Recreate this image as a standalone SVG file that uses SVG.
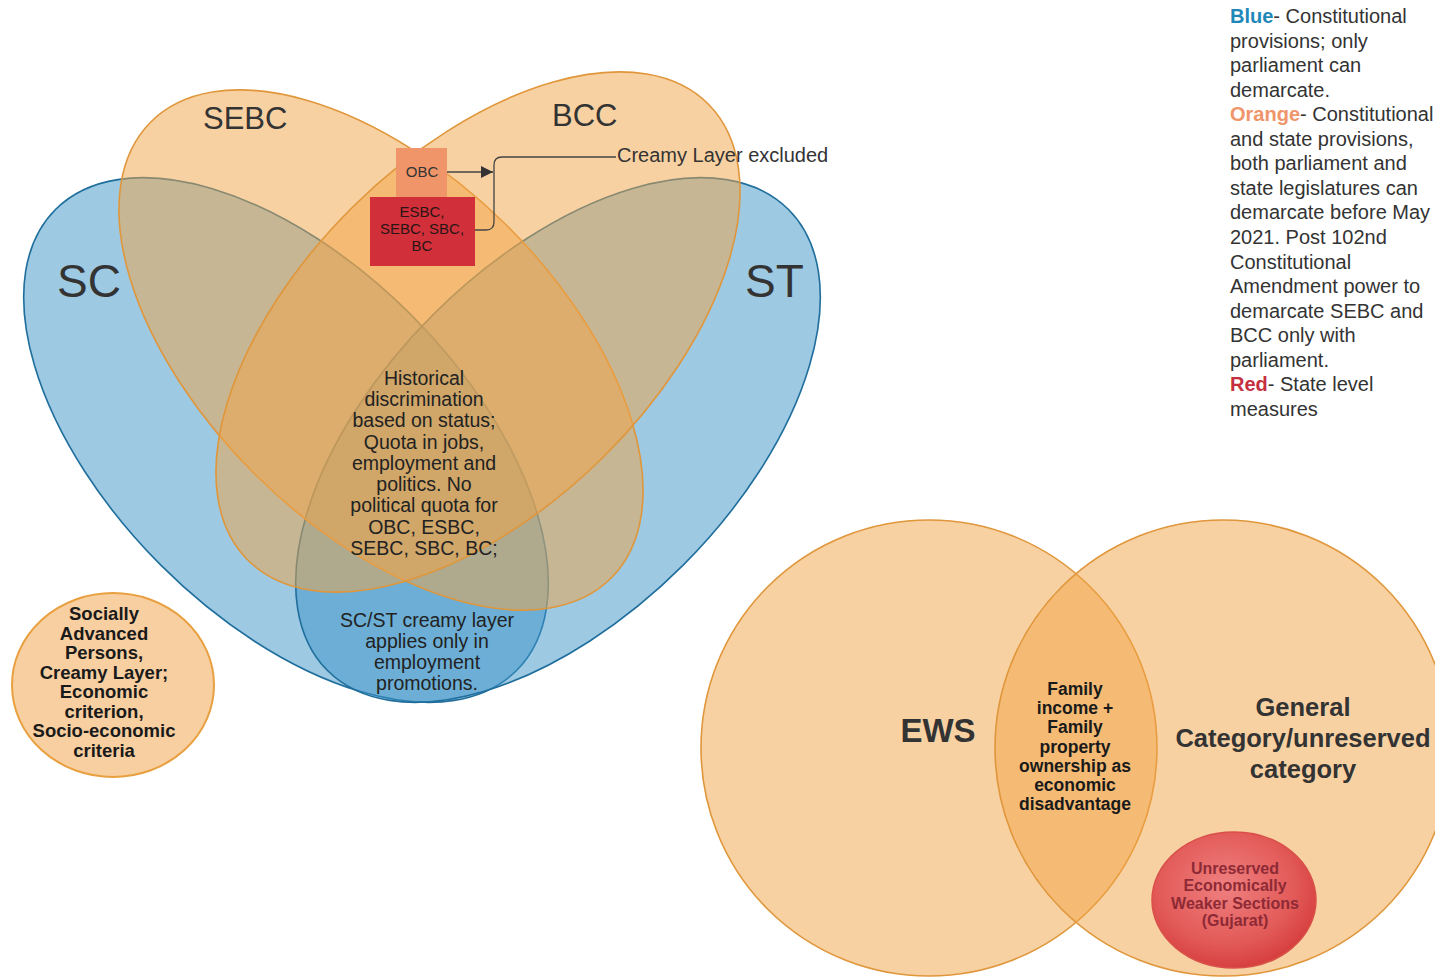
<svg xmlns="http://www.w3.org/2000/svg" width="1435" height="978" viewBox="0 0 1435 978">
<defs>
<style>
.blue{fill:#3B93C7;fill-opacity:0.5;stroke:#1F6E9C;stroke-width:1.6}
.orange{fill:#F2A445;fill-opacity:0.5;stroke:#E0963A;stroke-width:1.6}
.t{font-family:"Liberation Sans",Arial,sans-serif;fill:#333}
.b{font-weight:bold}
.c{text-anchor:middle}
.leg{font-family:"Liberation Sans",Arial,sans-serif;font-size:20px;fill:#333}
</style>
<radialGradient id="redg" cx="0.45" cy="0.4" r="0.6">
<stop offset="0" stop-color="#EF8080"/>
<stop offset="0.7" stop-color="#E25A58"/>
<stop offset="1" stop-color="#D6403F"/>
</radialGradient>
<marker id="arr" viewBox="0 0 12 12" refX="12" refY="6" markerWidth="12" markerHeight="12" markerUnits="userSpaceOnUse" orient="auto">
<path d="M0,0 L12,6 L0,12 z" fill="#333"/>
</marker>
</defs>
<rect width="1435" height="978" fill="#fff"/>

<g id="SC"><ellipse class="blue" cx="286" cy="440" rx="326" ry="177" transform="rotate(45 286 440)"/></g>
<g id="ST"><ellipse class="blue" cx="558" cy="440" rx="326" ry="177" transform="rotate(-45 558 440)"/></g>
<g id="SEBC"><ellipse class="orange" cx="381" cy="350" rx="324" ry="177" transform="rotate(44.6 381 350)"/></g>
<g id="BCC"><ellipse class="orange" cx="478" cy="332" rx="324" ry="177" transform="rotate(-44.6 478 332)"/></g>

<g id="labels4" class="t">
<text x="57" y="297" font-size="46">SC</text>
<text x="745" y="297" font-size="46">ST</text>
<text x="203" y="129" font-size="31">SEBC</text>
<text x="552" y="126" font-size="31">BCC</text>
</g>

<g id="OBC">
<rect x="396" y="148" width="51" height="50" fill="#F0956A"/>
<text class="t c" x="422" y="177" font-size="15" fill="#3a2a22">OBC</text>
</g>
<g id="ESBC">
<rect x="370" y="197" width="105" height="69" fill="#D12F3A"/>
<g class="t c" font-size="15" style="fill:#2a1515">
<text x="422" y="217">ESBC,</text>
<text x="422" y="234">SEBC, SBC,</text>
<text x="422" y="251">BC</text>
</g>
</g>

<g id="connectors" fill="none" stroke="#444" stroke-width="1.3">
<path d="M475,230 H486 Q494,230 494,222 V165 Q494,157 502,157 H616"/>
<path d="M447,172 H493" marker-end="url(#arr)"/>
</g>
<g id="creamy"><text class="t" x="617" y="162" font-size="20">Creamy Layer excluded</text></g>

<g id="center-text" class="t c" font-size="19.5" style="fill:#222">
<text x="424" y="385">Historical</text>
<text x="424" y="406">discrimination</text>
<text x="424" y="427">based on status;</text>
<text x="424" y="449">Quota in jobs,</text>
<text x="424" y="470">employment and</text>
<text x="424" y="491">politics. No</text>
<text x="424" y="512">political quota for</text>
<text x="424" y="534">OBC, ESBC,</text>
<text x="424" y="555">SEBC, SBC, BC;</text>
</g>
<g id="scst-text" class="t c" font-size="19.5" style="fill:#222">
<text x="427" y="627">SC/ST creamy layer</text>
<text x="427" y="648">applies only in</text>
<text x="427" y="669">employment</text>
<text x="427" y="690">promotions.</text>
</g>

<g id="socially">
<ellipse cx="113" cy="685" rx="101" ry="92" fill="#F8CFA0" stroke="#E8A040" stroke-width="2"/>
<g class="t b c" font-size="18.5" style="fill:#1a1a1a">
<text x="104" y="620">Socially</text>
<text x="104" y="639.5">Advanced</text>
<text x="104" y="659">Persons,</text>
<text x="104" y="678.5">Creamy Layer;</text>
<text x="104" y="698">Economic</text>
<text x="104" y="717.5">criterion,</text>
<text x="104" y="737">Socio-economic</text>
<text x="104" y="756.5">criteria</text>
</g>
</g>

<g id="EWS">
<circle class="orange" cx="929" cy="748" r="228"/>
</g>
<g id="General">
<circle class="orange" cx="1223" cy="748" r="228"/>
</g>
<g id="gujarat">
<ellipse cx="1234" cy="900" rx="82" ry="68" fill="url(#redg)" stroke="#D9504A" stroke-width="1.5"/>
<g class="t b c" font-size="16" style="fill:#8E2A35">
<text x="1235" y="874">Unreserved</text>
<text x="1235" y="891">Economically</text>
<text x="1235" y="908.5">Weaker Sections</text>
<text x="1235" y="926">(Gujarat)</text>
</g>
</g>
<g id="ews-text" class="t b c">
<text x="938" y="742" font-size="33">EWS</text>
<g font-size="25.5">
<text x="1303" y="716">General</text>
<text x="1303" y="747">Category/unreserved</text>
<text x="1303" y="778">category</text>
</g>
<g font-size="17.5" style="fill:#1a1a1a">
<text x="1075" y="695">Family</text>
<text x="1075" y="714">income +</text>
<text x="1075" y="733">Family</text>
<text x="1075" y="753">property</text>
<text x="1075" y="772">ownership as</text>
<text x="1075" y="791">economic</text>
<text x="1075" y="810">disadvantage</text>
</g>
</g>

<g id="legend" class="leg">
<text x="1230" y="23"><tspan font-weight="bold" fill="#1E88B8">Blue</tspan>- Constitutional</text>
<text x="1230" y="47.6">provisions; only</text>
<text x="1230" y="72.1">parliament can</text>
<text x="1230" y="96.7">demarcate.</text>
<text x="1230" y="121.2"><tspan font-weight="bold" fill="#F0956A">Orange</tspan>- Constitutional</text>
<text x="1230" y="145.8">and state provisions,</text>
<text x="1230" y="170.3">both parliament and</text>
<text x="1230" y="194.9">state legislatures can</text>
<text x="1230" y="219.4">demarcate before May</text>
<text x="1230" y="244">2021. Post 102nd</text>
<text x="1230" y="268.5">Constitutional</text>
<text x="1230" y="293.1">Amendment power to</text>
<text x="1230" y="317.6">demarcate SEBC and</text>
<text x="1230" y="342.2">BCC only with</text>
<text x="1230" y="366.7">parliament.</text>
<text x="1230" y="391.3"><tspan font-weight="bold" fill="#C62F3E">Red</tspan>- State level</text>
<text x="1230" y="415.8">measures</text>
</g>
</svg>
